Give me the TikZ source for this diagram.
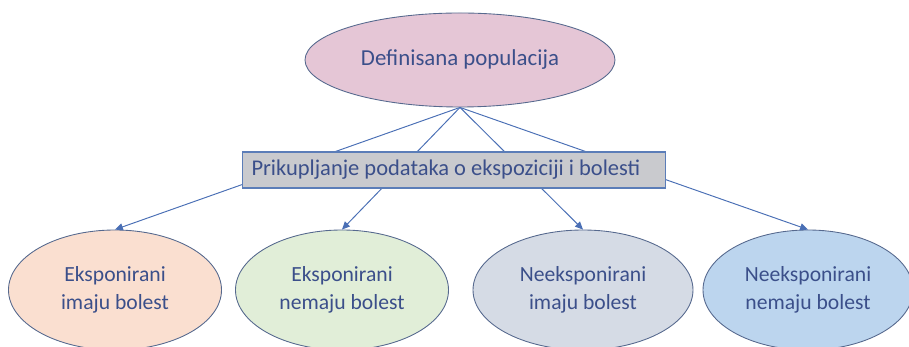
\documentclass[tikz,border=0pt]{standalone}
\usepackage{fontspec}
\setmainfont{Carlito}
\usepackage{xcolor}
\usetikzlibrary{positioning, arrows.meta, shapes.geometric}

\definecolor{txtblue}{HTML}{3B4F8A}
\definecolor{rimblue}{HTML}{56698E}
\definecolor{boxrim}{HTML}{5B7DB8}
\definecolor{arrblue}{HTML}{4A6FB5}
\definecolor{popfill}{HTML}{E5C6D6}
\definecolor{boxfill}{HTML}{C9CACE}
\definecolor{ezfill}{HTML}{FADFD0}
\definecolor{enfill}{HTML}{E1EED8}
\definecolor{nzfill}{HTML}{D5DBE5}
\definecolor{nnfill}{HTML}{BCD5EE}

\tikzset{
  grupa/.style={ellipse, draw=rimblue, line width=0.5pt, inner sep=0pt,
    minimum width=4.26cm, minimum height=2.4cm, align=center,
    text=txtblue, font=\fontsize{12.3}{16}\selectfont},
  veza/.style={draw=arrblue, line width=0.55pt, -{Triangle[length=4.5pt, width=4pt]}}
}

\begin{document}
\begin{tikzpicture}
            \useasboundingbox (0, 0) rectangle (18.18, -6.94);
            \node[ellipse, draw=rimblue, line width=0.5pt, fill=popfill, inner sep=0pt,
                  minimum width=6.2cm, minimum height=1.88cm, text=txtblue,
                  font=\fontsize{13}{16}\selectfont] (pop) at (9.2, -1.2) {Definisana populacija};

            \node[grupa, fill=ezfill] (ez) at (2.3, -5.8) {Eksponirani\\imaju bolest};
            \node[grupa, fill=enfill] (en) at (6.84, -5.8) {Eksponirani\\nemaju bolest};
            \node[grupa, fill=nzfill, minimum width=4.4cm] (nz) at (11.66, -5.8) {Neeksponirani\\imaju bolest};
            \node[grupa, fill=nnfill, minimum width=4.2cm] (nn) at (16.16, -5.8) {Neeksponirani\\nemaju bolest};

            \draw[veza] (pop.south) -- (ez.north);
            \draw[veza] (pop.south) -- (en.north);
            \draw[veza] (pop.south) -- (nz.north);
            \draw[veza] (pop.south) -- (nn.north);

            \node[rectangle, draw=boxrim, line width=0.6pt, fill=boxfill, inner sep=0pt,
                  minimum width=8.46cm, minimum height=0.72cm, text=txtblue,
                  text width=8.1cm, align=flush left,
                  font=\fontsize{12.8}{16}\selectfont] (prik) at (9.08, -3.4) {Prikupljanje podataka o ekspoziciji i bolesti};
        \end{tikzpicture}
\end{document}
